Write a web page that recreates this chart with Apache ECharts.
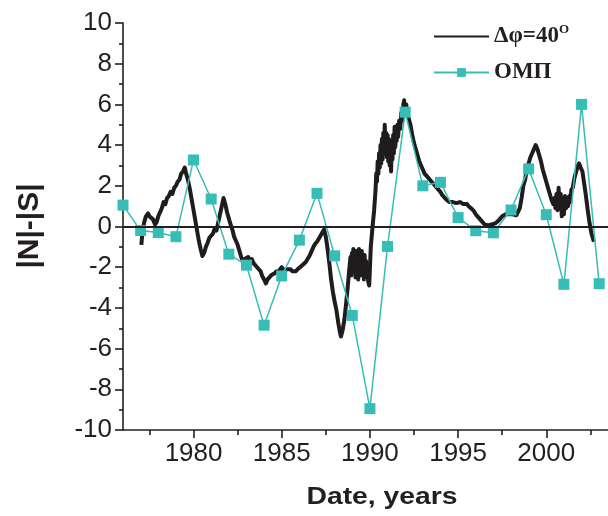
<!DOCTYPE html>
<html>
<head>
<meta charset="utf-8">
<script src="https://cdn.jsdelivr.net/npm/echarts@6/dist/echarts.min.js"></script>
<style>html,body{margin:0;padding:0;background:#fff;}#c{width:608px;height:516px;}</style>
</head>
<body>
<div id="c"></div>
<script>
// ---- data ----
var ompYears = [1976,1977,1978,1979,1980,1981,1982,1983,1984,1985,1986,1987,1988,1989,1990,1991,1992,1993,1994,1995,1996,1997,1998,1999,2000,2001,2002,2003];
var ompValues = [1.05,-0.2,-0.3,-0.5,3.27,1.35,-1.36,-1.9,-4.85,-2.43,-0.67,1.63,-1.44,-4.37,-8.95,-0.98,5.62,2.0,2.17,0.44,-0.21,-0.31,0.81,2.83,0.58,-2.84,6.0,-2.81];

var dphiYears = [
1977.04,1977.1,1977.2,1977.3,1977.42,1977.5,1977.6,1977.7,1977.82,1977.9,
1978.0,1978.1,1978.2,1978.3,1978.4,1978.5,1978.6,1978.7,1978.8,1978.9,
1979.0,1979.1,1979.2,1979.3,1979.4,1979.5,1979.58,1979.68,1979.8,1979.9,
1980.0,1980.1,1980.2,1980.3,1980.4,1980.5,1980.6,1980.7,1980.8,1980.9,
1981.0,1981.1,1981.2,1981.3,1981.4,1981.5,1981.6,1981.7,1981.8,1981.9,
1982.0,1982.1,1982.2,1982.3,1982.4,1982.5,1982.6,1982.7,1982.8,1982.9,
1983.0,1983.1,1983.2,1983.3,1983.4,1983.5,1983.6,1983.7,1983.8,1983.9,
1984.0,1984.1,1984.2,1984.3,1984.4,1984.5,1984.6,1984.7,1984.8,1984.9,
1985.0,1985.1,1985.2,1985.3,1985.4,1985.5,1985.6,1985.7,1985.8,1985.9,
1986.0,1986.1,1986.2,1986.3,1986.4,1986.5,1986.6,1986.7,1986.8,1986.9,
1987.0,1987.1,1987.2,1987.3,1987.4,1987.5,1987.6,1987.7,1987.8,1987.9,
1988.0,1988.1,1988.2,1988.3,1988.36,1988.45,1988.55,1988.65,1988.74,1988.82,
1988.90,1988.94,1988.98,1989.02,1989.06,1989.10,1989.14,1989.18,1989.22,1989.26,
1989.30,1989.34,1989.38,1989.42,1989.46,1989.50,1989.54,1989.58,1989.62,1989.66,
1989.70,1989.74,1989.78,1989.82,1989.86,1989.90,1989.96,1990.05,1990.15,1990.24,
1990.32,1990.36,1990.40,1990.44,1990.48,1990.52,1990.56,1990.60,1990.64,1990.68,
1990.72,1990.76,1990.80,1990.84,1990.88,1990.92,1990.96,1991.00,1991.04,1991.08,
1991.12,1991.16,1991.20,1991.24,1991.28,1991.32,1991.36,1991.40,1991.44,1991.48,
1991.52,1991.56,1991.60,1991.66,1991.72,1991.78,1991.84,1991.90,1991.94,1992.0,
1992.06,1992.12,1992.2,1992.3,1992.4,1992.5,1992.6,1992.7,1992.8,1992.9,
1993.0,1993.1,1993.2,1993.3,1993.4,1993.5,1993.6,1993.7,1993.8,1993.9,
1994.0,1994.1,1994.2,1994.3,1994.4,1994.5,1994.6,1994.7,1994.8,1994.9,
1995.0,1995.1,1995.2,1995.3,1995.4,1995.5,1995.6,1995.7,1995.8,1995.9,
1996.0,1996.1,1996.2,1996.3,1996.4,1996.5,1996.6,1996.7,1996.8,1996.9,
1997.0,1997.1,1997.2,1997.3,1997.4,1997.5,1997.6,1997.7,1997.8,1997.9,
1998.0,1998.1,1998.2,1998.3,1998.4,1998.5,1998.6,1998.7,1998.8,1998.9,
1999.0,1999.1,1999.2,1999.3,1999.4,1999.5,1999.6,1999.7,1999.8,1999.9,
2000.0,2000.1,2000.2,2000.3,2000.40,2000.46,2000.52,2000.58,2000.64,2000.70,
2000.76,2000.82,2000.88,2000.94,2001.00,2001.06,2001.12,2001.18,2001.24,2001.30,
2001.36,2001.42,2001.5,2001.6,2001.7,2001.8,2001.86,2001.95,2002.05,2002.15,
2002.25,2002.35,2002.45,2002.55,2002.65,2002.7];
var dphiValues = [
-0.9,-0.3,0.2,0.5,0.65,0.5,0.55,0.35,0.1,0.2,
0.5,0.7,0.9,1.2,1.1,1.4,1.5,1.7,1.6,1.9,
2.0,2.2,2.3,2.6,2.7,2.9,2.6,2.3,1.8,1.3,
0.8,0.3,-0.2,-0.7,-1.1,-1.45,-1.3,-1.0,-0.8,-0.55,
-0.5,-0.35,-0.1,-0.2,0.2,0.6,1.0,1.4,1.1,0.7,
0.4,0.1,-0.15,-0.5,-0.7,-0.9,-1.2,-1.5,-1.7,-1.6,
-1.6,-1.5,-1.7,-1.6,-1.8,-1.85,-2.0,-2.1,-2.2,-2.45,
-2.6,-2.8,-2.6,-2.5,-2.4,-2.4,-2.3,-2.2,-2.3,-2.1,
-2.0,-2.15,-2.2,-2.1,-2.15,-2.1,-2.2,-2.15,-2.2,-2.1,
-2.05,-1.95,-1.95,-1.8,-1.7,-1.55,-1.4,-1.2,-1.0,-0.85,
-0.75,-0.6,-0.45,-0.3,-0.15,-0.5,-1.1,-1.8,-2.6,-3.2,
-3.7,-4.1,-4.7,-5.2,-5.4,-5.1,-4.6,-3.8,-3.0,-2.2,
-1.5,-2.4,-1.3,-2.2,-1.1,-2.0,-1.4,-2.5,-1.2,-2.3,
-1.5,-2.6,-1.1,-2.1,-1.3,-2.4,-1.2,-2.2,-1.6,-2.6,
-1.4,-2.3,-1.7,-2.5,-1.9,-2.7,-2.9,-1.0,0.0,0.8,
1.8,2.6,2.2,3.2,2.6,3.6,2.9,4.0,3.1,4.3,
3.3,4.6,3.6,5.0,3.8,4.6,3.4,4.5,3.2,4.3,
3.0,4.2,2.7,4.0,3.3,4.5,3.6,4.9,3.9,4.7,
4.2,5.0,4.4,5.2,4.8,5.6,5.2,6.0,6.2,5.6,
6.0,5.5,5.3,5.0,4.5,4.1,3.8,3.5,3.2,3.0,
2.8,2.6,2.5,2.4,2.3,2.2,2.1,2.0,1.9,1.8,
1.7,1.55,1.45,1.35,1.3,1.2,1.15,1.2,1.2,1.15,
1.2,1.2,1.15,1.1,1.15,1.1,1.0,0.95,0.85,0.75,
0.6,0.5,0.4,0.3,0.2,0.1,0.05,0.05,0.0,0.1,
0.05,0.15,0.2,0.3,0.4,0.5,0.55,0.6,0.65,0.6,
0.65,0.6,0.65,0.55,0.6,0.9,1.4,2.0,2.3,2.8,
3.1,3.4,3.6,3.8,4.0,3.8,3.5,3.2,2.8,2.5,
2.2,1.9,1.6,1.3,1.1,1.4,0.9,1.6,0.8,1.9,
0.9,1.6,0.5,1.3,0.6,1.5,0.9,1.4,1.0,1.5,
1.2,1.8,1.9,2.4,2.7,3.0,3.1,2.9,2.7,2.1,
1.5,0.8,0.2,-0.3,-0.6,-0.75];

var xMajorTicks = [1980,1985,1990,1995,2000];
var xMinorTicks = [1977.5,1982.5,1987.5,1992.5,1997.5,2002.5];
var seriesNames = ['dphi','omp'];

// ---- build chart ----
var dphiData = dphiYears.map(function(y,i){return [y, dphiValues[i]];});
var ompData = ompYears.map(function(y,i){return [y, ompValues[i]];});
var ink = '#231f20';
var teal = '#38bdb6';
var sans = '"Liberation Sans", Arial, sans-serif';
var serif = '"Liberation Serif", "Times New Roman", serif';

var chart = echarts.init(document.getElementById('c'), null, {renderer:'canvas'});
chart.setOption({
  animation: false,
  backgroundColor: '#fff',
  grid: {left: 123, right: 0, top: 23, bottom: 86, containLabel: false},
  xAxis: [{
    type: 'value', min: 1976, max: 2003.5, position: 'bottom',
    axisLine: {show: true, onZero: false, lineStyle: {color: ink, width: 1.6}},
    axisTick: {show: true, length: 8, customValues: xMajorTicks, lineStyle: {color: ink, width: 1.6}},
    axisLabel: {show: true, customValues: xMajorTicks, margin: 11, fontSize: 26, color: ink, fontFamily: sans,
      formatter: function(v){ return String(v); }},
    splitLine: {show: false}
  },{
    type: 'value', min: 1976, max: 2003.5, position: 'bottom',
    axisLine: {show: false, onZero: false},
    axisTick: {show: true, length: 5, customValues: xMinorTicks, lineStyle: {color: ink, width: 1.6}},
    axisLabel: {show: false},
    splitLine: {show: false}
  }],
  yAxis: {
    type: 'value', min: -10, max: 10, interval: 2,
    axisLine: {show: true, lineStyle: {color: ink, width: 1.6}},
    axisTick: {show: true, length: 8, lineStyle: {color: ink, width: 1.6}},
    minorTick: {show: true, splitNumber: 2, length: 4, lineStyle: {color: ink, width: 1.6}},
    axisLabel: {margin: 11, fontSize: 26, color: ink, fontFamily: sans},
    splitLine: {show: false}, minorSplitLine: {show: false}
  },
  legend: {
    orient: 'vertical', left: 428, top: 18, itemWidth: 55, itemHeight: 11, itemGap: 11,
    data: [{name: 'dphi', itemStyle: {opacity: 0}}, {name: 'omp'}],
    formatter: function(n){ return n === 'dphi' ? '{a|Δφ=40}{s|O}' : '{a|ОМП}'; },
    textStyle: {
      color: ink, lineHeight: 25,
      rich: {
        a: {fontFamily: serif, fontWeight: 'bold', fontSize: 23, color: ink, lineHeight: 25},
        s: {fontFamily: serif, fontWeight: 'bold', fontSize: 13, color: ink, padding: [0,0,14,0]}
      }
    }
  },
  series: [{
    name: 'dphi', type: 'line', data: dphiData, showSymbol: false, symbol: 'none',
    lineStyle: {color: '#1e1c1c', width: 4, join: 'round'},
    itemStyle: {color: '#1e1c1c'},
    markLine: {
      silent: true, symbol: ['none','none'], label: {show: false},
      lineStyle: {color: ink, width: 2, type: 'solid'},
      data: [{yAxis: 0}]
    },
    z: 2
  },{
    name: 'omp', type: 'line', data: ompData, symbol: 'rect', symbolSize: 11,
    lineStyle: {color: teal, width: 1.5},
    itemStyle: {color: teal},
    z: 3
  }],
  graphic: [{
    type: 'text', x: 382, y: 497, scaleX: 1.18,
    style: {text: 'Date, years', font: 'bold 24px ' + sans, fill: ink, align: 'center', verticalAlign: 'middle'}
  },{
    type: 'text', x: 30, y: 226, rotation: Math.PI/2,
    style: {text: '|N|-|S|', font: 'bold 30px ' + sans, fill: ink, align: 'center', verticalAlign: 'middle'}
  }]
});
</script>
</body>
</html>
